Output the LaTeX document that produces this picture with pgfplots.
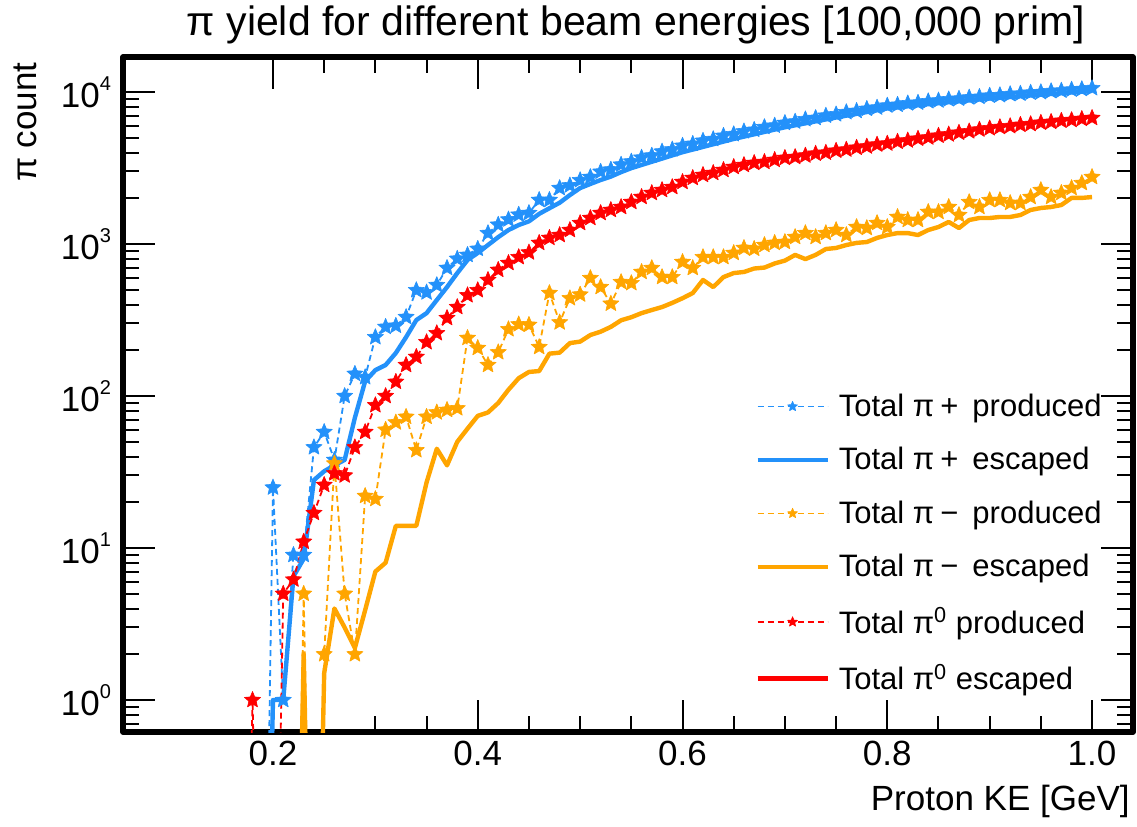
\documentclass[border=0pt]{standalone}
\usepackage{pgfplots}
\pgfplotsset{compat=1.18}
\usepackage{pgfplotstable}
\usepackage{fontspec}
\setmainfont{Liberation Sans}

\definecolor{piplus}{RGB}{35,145,250}
\definecolor{piminus}{RGB}{255,165,0}
\definecolor{pizero}{RGB}{255,0,0}

% filled five-pointed star, like ROOT marker 29
\pgfdeclareplotmark{rstar}{%
  \pgfpathmoveto{\pgfpointpolar{90}{\pgfplotmarksize}}%
  \pgfpathlineto{\pgfpointpolar{126}{0.45\pgfplotmarksize}}%
  \pgfpathlineto{\pgfpointpolar{162}{\pgfplotmarksize}}%
  \pgfpathlineto{\pgfpointpolar{198}{0.45\pgfplotmarksize}}%
  \pgfpathlineto{\pgfpointpolar{234}{\pgfplotmarksize}}%
  \pgfpathlineto{\pgfpointpolar{270}{0.45\pgfplotmarksize}}%
  \pgfpathlineto{\pgfpointpolar{306}{\pgfplotmarksize}}%
  \pgfpathlineto{\pgfpointpolar{342}{0.45\pgfplotmarksize}}%
  \pgfpathlineto{\pgfpointpolar{18}{\pgfplotmarksize}}%
  \pgfpathlineto{\pgfpointpolar{54}{0.45\pgfplotmarksize}}%
  \pgfpathclose
  \pgfusepathqfillstroke}

\newcommand\tp[1]{10\raisebox{8.5pt}{\fontsize{10}{10}\selectfont #1}}

% values below the axis (0.001) stand for zero counts
\pgfplotstableread{
x y
0.19 0.001
0.20 25
0.21 1
0.22 9
0.23 9
0.24 46
0.25 58
0.26 38
0.27 100
0.28 140
0.29 133
0.30 244
0.31 285
0.32 290
0.33 331
0.34 497
0.35 480
0.36 537
0.37 696
0.38 800
0.39 848
0.40 930
0.41 1180
0.42 1340
0.43 1450
0.44 1560
0.45 1600
0.46 1950
0.47 1950
0.48 2335
0.49 2430
0.50 2630
0.51 2760
0.52 2990
0.53 3090
0.54 3330
0.55 3490
0.56 3700
0.57 3820
0.58 4060
0.59 4190
0.60 4430
0.61 4560
0.62 4780
0.63 4900
0.64 5150
0.65 5280
0.66 5510
0.67 5640
0.68 5880
0.69 6010
0.70 6260
0.71 6390
0.72 6620
0.73 6750
0.74 6990
0.75 7130
0.76 7370
0.77 7510
0.78 7750
0.79 7900
0.80 8140
0.81 8240
0.82 8420
0.83 8510
0.84 8690
0.85 8790
0.86 8950
0.87 9040
0.88 9200
0.89 9290
0.90 9460
0.91 9530
0.92 9680
0.93 9750
0.94 9900
0.95 9980
0.96 10130
0.97 10210
0.98 10370
0.99 10450
1.00 10600
}\bp

\pgfplotstableread{
x y
0.19 0.001
0.20 1
0.21 1
0.22 6.5
0.23 8.5
0.24 28
0.25 32
0.26 35
0.27 38
0.28 72
0.29 125
0.30 148
0.31 160
0.32 192
0.33 244
0.34 316
0.35 351
0.36 428
0.37 521
0.38 644
0.39 785
0.40 873
0.41 985
0.42 1110
0.43 1236
0.44 1334
0.45 1410
0.46 1580
0.47 1720
0.48 1870
0.49 2100
0.50 2335
0.51 2485
0.52 2638
0.53 2778
0.54 2973
0.55 3157
0.56 3313
0.57 3477
0.58 3648
0.59 3829
0.60 4019
0.61 4182
0.62 4354
0.63 4533
0.64 4718
0.65 4911
0.66 5088
0.67 5271
0.68 5462
0.69 5659
0.70 5863
0.71 6040
0.72 6223
0.73 6410
0.74 6604
0.75 6803
0.76 6992
0.77 7187
0.78 7387
0.79 7592
0.80 7803
0.81 7930
0.82 8059
0.83 8190
0.84 8323
0.85 8458
0.86 8576
0.87 8695
0.88 8816
0.89 8939
0.90 9063
0.91 9168
0.92 9275
0.93 9381
0.94 9491
0.95 9600
0.96 9711
0.97 9824
0.98 9937
0.99 10052
1.00 10169
}\be

\pgfplotstableread{
x y
0.22 0.001
0.23 5
0.24 0.001
0.25 2
0.26 36
0.27 5
0.28 2
0.29 22
0.30 21
0.31 60
0.32 67
0.33 73
0.34 44
0.35 73
0.36 78
0.37 81
0.38 83
0.39 241
0.40 207
0.41 160
0.42 194
0.43 275
0.44 296
0.45 294
0.46 210
0.47 476
0.48 305
0.49 440
0.50 465
0.51 597
0.52 521
0.53 405
0.54 562
0.55 553
0.56 655
0.57 695
0.58 606
0.59 606
0.60 762
0.61 695
0.62 820
0.63 820
0.64 820
0.65 873
0.66 942
0.67 930
0.68 985
0.69 1017
0.70 1031
0.71 1112
0.72 1180
0.73 1112
0.74 1180
0.75 1236
0.76 1146
0.77 1294
0.78 1274
0.79 1374
0.80 1294
0.81 1507
0.82 1439
0.83 1439
0.84 1626
0.85 1626
0.86 1752
0.87 1552
0.88 1888
0.89 1752
0.90 1946
0.91 1946
0.92 1862
0.93 1862
0.94 2038
0.95 2266
0.96 2038
0.97 2168
0.98 2335
0.99 2518
1.00 2760
}\mp

\pgfplotstableread{
x y
0.22 0.001
0.23 2
0.24 0.001
0.25 1.5
0.26 4
0.27 3
0.28 2.2
0.29 3.9
0.30 7
0.31 8
0.32 14
0.33 14
0.34 14
0.35 27
0.36 45
0.37 35
0.38 50
0.39 61
0.40 74
0.41 78
0.42 90
0.43 110
0.44 131
0.45 144
0.46 146
0.47 190
0.48 193
0.49 223
0.50 228
0.51 252
0.52 265
0.53 285
0.54 315
0.55 330
0.56 351
0.57 368
0.58 385
0.59 410
0.60 440
0.61 476
0.62 580
0.63 521
0.64 606
0.65 644
0.66 655
0.67 690
0.68 700
0.69 745
0.70 778
0.71 848
0.72 796
0.73 848
0.74 927
0.75 942
0.76 985
0.77 1017
0.78 1031
0.79 1097
0.80 1146
0.81 1180
0.82 1180
0.83 1146
0.84 1236
0.85 1294
0.86 1397
0.87 1274
0.88 1439
0.89 1483
0.90 1483
0.91 1507
0.92 1507
0.93 1552
0.94 1675
0.95 1726
0.96 1752
0.97 1806
0.98 2010
0.99 2010
1.00 2038
}\me

\pgfplotstableread{
x y
0.17 0.001
0.18 1
0.19 0.001
0.20 0.001
0.21 5
0.22 6.2
0.23 11
0.24 17
0.25 26
0.26 31
0.27 30
0.28 46
0.29 58
0.30 87
0.31 100
0.32 124
0.33 160
0.34 181
0.35 226
0.36 259
0.37 326
0.38 385
0.39 460
0.40 497
0.41 580
0.42 676
0.43 750
0.44 820
0.45 880
0.46 1017
0.47 1097
0.48 1146
0.49 1236
0.50 1374
0.51 1483
0.52 1600
0.53 1675
0.54 1752
0.55 1890
0.56 2040
0.57 2166
0.58 2266
0.59 2370
0.60 2560
0.61 2720
0.62 2846
0.63 2933
0.64 3070
0.65 3213
0.66 3310
0.67 3415
0.68 3465
0.69 3575
0.70 3685
0.71 3736
0.72 3820
0.73 3930
0.74 3990
0.75 4110
0.76 4180
0.77 4300
0.78 4380
0.79 4510
0.80 4580
0.81 4710
0.82 4800
0.83 4930
0.84 5020
0.85 5160
0.86 5260
0.87 5400
0.88 5510
0.89 5660
0.90 5770
0.91 5880
0.92 5960
0.93 6080
0.94 6150
0.95 6280
0.96 6360
0.97 6470
0.98 6540
0.99 6650
1.00 6750
}\zp

\begin{document}
\begin{tikzpicture}
\useasboundingbox (-61.5pt,-47pt) rectangle (507pt,366pt);
\begin{axis}[
  at={(0pt,0pt)}, anchor=south west,
  scale only axis, width=505pt, height=337.5pt,
  ymode=log,
  xmin=0.0535, xmax=1.04, ymin=0.616, ymax=17000,
  xtick={0.2,0.4,0.6,0.8,1.0},
  xticklabels={0.2,0.4,0.6,0.8,1.0},
  minor x tick num=3,
  ytick={1,10,100,1000,10000},
  yticklabels={\tp{0},\tp{1},\tp{2},\tp{3},\tp{4}},
  minor ytick={0.7,0.8,0.9,2,3,4,5,6,7,8,9,20,30,40,50,60,70,80,90,200,300,400,500,600,700,800,900,2000,3000,4000,5000,6000,7000,8000,9000},
  tick align=inside,
  major tick length=16pt, minor tick length=8pt,
  tick style={black, line width=1pt},
  axis line style={line width=2.6pt},
  ticklabel style={font=\fontsize{17.5}{20}\selectfont},
  xticklabel style={yshift=-1pt},
  yticklabel style={xshift=-2.5pt},
  title={π yield for different beam energies [100,000 prim]},
  title style={at={(axis description cs:0.5,1)}, anchor=base, yshift=4.5pt, xshift=4pt, inner sep=0pt, font=\fontsize{20.5}{24}\selectfont},
  xlabel={Proton KE [GeV]},
  xlabel style={at={(axis description cs:1,0)}, anchor=north east, yshift=-26.5pt, xshift=-1.5pt, inner sep=0pt, font=\fontsize{17.5}{20}\selectfont},
  ylabel={π count},
  ylabel style={at={(axis description cs:-0.0852,0.9926)}, anchor=base east, inner sep=0pt, font=\fontsize{17.5}{20}\selectfont},
  legend style={at={(axis description cs:0.6257,0.515)}, anchor=north west, draw=none, fill=none, inner sep=0pt, row sep=5pt, font=\fontsize{15.5}{18}\selectfont, nodes={inner sep=4.5pt}},
  legend cell align=left,
  legend image code/.code={\draw[mark repeat=2,mark phase=2,mark size=2.6pt] plot coordinates {(0pt,0pt) (17.5pt,0pt) (35pt,0pt)};},
  line join=round,
]
\addplot[piplus, line width=0.9pt, dash pattern=on 3pt off 2pt, mark=rstar, mark size=4.25pt, mark options={solid, fill=piplus, draw=piplus, line width=0.3pt}] table {\bp};
\addlegendentry{Total π\hspace{0.2em}+\hspace{0.45em}produced}
\addplot[piplus, line width=2.2pt] table {\be};
\addlegendentry{Total π\hspace{0.2em}+\hspace{0.45em}escaped}
\addplot[piminus, line width=0.9pt, dash pattern=on 3pt off 2pt, mark=rstar, mark size=4.25pt, mark options={solid, fill=piminus, draw=piminus, line width=0.3pt}] table {\mp};
\addlegendentry{Total π\hspace{0.2em}−\hspace{0.45em}produced}
\addplot[piminus, line width=2.2pt] table {\me};
\addlegendentry{Total π\hspace{0.2em}−\hspace{0.45em}escaped}
\addplot[pizero, line width=0.9pt, dash pattern=on 3pt off 2pt, mark=rstar, mark size=4.25pt, mark options={solid, fill=pizero, draw=pizero, line width=0.3pt}] table {\zp};
\addlegendentry{Total π\textsuperscript{0} produced}
\addlegendimage{pizero, line width=2.2pt}
\addlegendentry{Total π\textsuperscript{0} escaped}
\end{axis}
\end{tikzpicture}
\end{document}
